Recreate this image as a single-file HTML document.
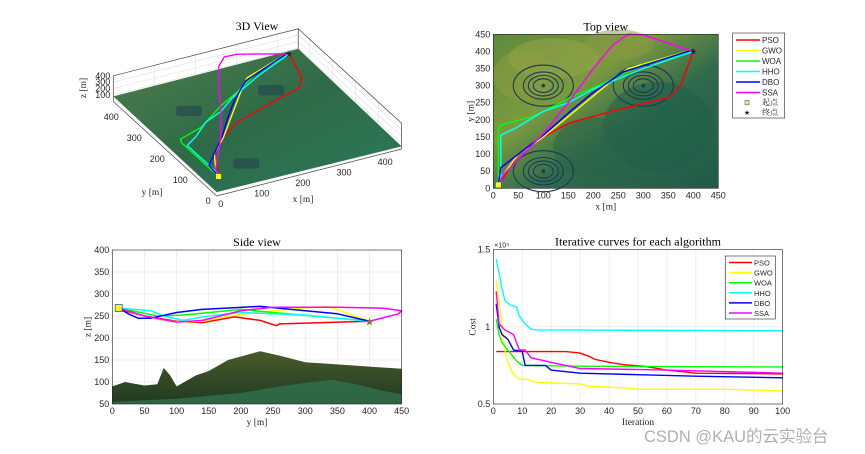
<!DOCTYPE html>
<html><head><meta charset="utf-8">
<style>
html,body{margin:0;padding:0;background:#fff;}
svg{display:block;}
text{font-family:"Liberation Sans",sans-serif;font-size:9px;fill:#262626;}
.ttl{font-family:"Liberation Serif",serif;font-size:12px;fill:#000;}
.lbl{font-family:"Liberation Serif","Noto Serif CJK SC",serif;font-size:9.5px;fill:#262626;}
</style></head>
<body>
<svg id="chart" width="865" height="454" viewBox="0 0 865 454" xmlns="http://www.w3.org/2000/svg">
<defs>
<linearGradient id="terrTop" x1="0" y1="0" x2="1" y2="1">
<stop offset="0" stop-color="#5f8a3c"/><stop offset="0.35" stop-color="#7a9a3e"/><stop offset="0.6" stop-color="#2f6a4c"/><stop offset="1" stop-color="#1f5a48"/>
</linearGradient>
<linearGradient id="terr3d" x1="0" y1="0" x2="1" y2="1">
<stop offset="0" stop-color="#4f7f4a"/><stop offset="0.5" stop-color="#2e6a48"/><stop offset="1" stop-color="#2a7a5a"/>
</linearGradient>
<linearGradient id="terrSide" x1="0" y1="0" x2="0" y2="1">
<stop offset="0" stop-color="#4a5a2a"/><stop offset="1" stop-color="#1f3a22"/>
</linearGradient>
</defs>
<g id="g3d"></g>
<g id="gtop"></g>
<g id="gside"></g>
<g id="gcost"></g>
<text x="644" y="442" style="font-size:16.5px;fill:#b0b0b0" font-family="Liberation Sans, Noto Sans CJK SC, sans-serif">CSDN @KAU的云实验台</text>
</svg>
<script>
const NS='http://www.w3.org/2000/svg';
const names=['PSO','GWO','WOA','HHO','DBO','SSA'];
const colors=['#ff0000','#ffff00','#00ff00','#00ffff','#0000ff','#ff00ff'];
// top view paths (x,y)
const topPSO=[[10,10],[20,30],[50,100],[100,150],[150,190],[250,230],[350,265],[375,300],[400,400]];
const topGWO=[[10,10],[15,30],[50,100],[100,150],[150,210],[200,270],[250,330],[270,350],[400,405]];
const topWOA=[[10,10],[10,170],[15,185],[80,210],[120,240],[160,270],[210,300],[300,360],[400,400]];
const topHHO=[[10,10],[15,20],[15,155],[50,180],[100,225],[150,250],[200,290],[300,350],[400,400]];
const topDBO=[[10,10],[15,60],[50,100],[100,155],[150,220],[200,280],[240,320],[260,340],[400,405]];
const topSSA=[[10,10],[20,40],[60,100],[100,160],[150,250],[200,350],[240,420],[270,450],[300,448],[400,400]];
// side view paths (y,z)
const sidePSO=[[10,265],[50,250],[100,238],[140,235],[190,248],[230,240],[255,228],[260,232],[400,238]];
const sideGWO=[[10,268],[60,245],[100,237],[140,238],[190,252],[250,262],[330,272],[340,270],[400,238]];
const sideWOA=[[10,268],[70,250],[110,252],[200,265],[250,258],[350,245],[400,238]];
const sideHHO=[[10,268],[60,262],[80,250],[110,240],[150,250],[200,258],[300,252],[400,238]];
const sideDBO=[[10,268],[25,255],[40,245],[60,245],[100,258],[140,265],[230,272],[300,262],[350,255],[400,238]];
const sideSSA=[[10,268],[50,250],[100,236],[140,240],[200,262],[250,270],[350,270],[420,268],[450,262],[445,255],[400,238]];
const sideTerrain=[[0,90],[20,100],[50,92],[70,95],[80,132],[90,115],[100,90],[130,115],[150,125],[180,150],[230,170],[260,160],[300,145],[350,140],[400,135],[450,130]];
// cost curves (iteration, cost)
const costPSO=[[1,8400],[25,8400],[30,8300],[33,8100],[35,7900],[40,7700],[45,7550],[52,7450],[60,7200],[65,7100],[70,7000],[100,6950]];
const costGWO=[[1,13000],[2,11500],[3,10000],[4,8500],[5,7700],[7,6900],[9,6600],[12,6600],[15,6400],[30,6300],[33,6150],[45,6050],[50,5950],[80,5950],[100,5850]];
const costWOA=[[1,10500],[2,9500],[3,9000],[5,8500],[8,7800],[10,7500],[30,7450],[100,7400]];
const costHHO=[[1,14400],[2,13500],[3,12500],[4,11700],[6,11400],[8,11300],[9,10700],[11,10200],[13,9850],[15,9800],[100,9750]];
const costDBO=[[1,11500],[2,10000],[3,9500],[5,9200],[7,8500],[10,8400],[11,7500],[18,7500],[20,7200],[30,7000],[50,6900],[70,6800],[100,6700]];
const costSSA=[[1,12300],[2,10200],[4,9800],[7,9500],[9,8500],[11,8500],[13,8000],[20,7700],[30,7300],[60,7200],[100,7000]];
const axTicks450=[0,50,100,150,200,250,300,350,400,450];
const sideZTicks=[50,100,150,200,250,300,350,400];
const costXTicks=[0,10,20,30,40,50,60,70,80,90,100];
const costYTicks=[0.5,1,1.5];
const tops=[topPSO,topGWO,topWOA,topHHO,topDBO,topSSA];
const sides=[sidePSO,sideGWO,sideWOA,sideHHO,sideDBO,sideSSA];
const costs=[costPSO,costGWO,costWOA,costHHO,costDBO,costSSA];

function mk(parent,tag,attrs,txt){const e=document.createElementNS(NS,tag);for(const k in attrs)e.setAttribute(k,attrs[k]);if(txt!==undefined)e.textContent=txt;parent.appendChild(e);return e;}
function lin(d0,d1,r0,r1){return v=>r0+(v-d0)/(d1-d0)*(r1-r0);}

// ---------- TOP VIEW ----------
(function(){
const g=document.getElementById('gtop');
const L=493.3,R=718.3,T=34.3,B=188.3;
const sx=lin(0,450,L,R),sy=lin(0,450,B,T);
let e=mk(g,'rect',{x:L,y:T,width:R-L,height:B-T,fill:'url(#terrTop)'});


const patches=[[120,380,90,40,'#9aa84a'],[60,330,60,50,'#8f9e44'],[250,420,70,30,'#8c9a40'],[330,180,110,90,'#1e5e4a'],[200,120,80,60,'#2a6448']];
patches.forEach(p=>{mk(g,'ellipse',{cx:sx(p[0]),cy:sy(p[1]),rx:p[2]/2,ry:p[3]/2,fill:p[4],opacity:0.5});});
[[100,300],[300,300],[100,50]].forEach(c=>{
 [60,40,30,20].forEach(r=>{mk(g,'ellipse',{cx:sx(c[0]),cy:sy(c[1]),rx:r*(R-L)/450,ry:r*(B-T)/450,fill:'none',stroke:'#1a3a5a','stroke-width':1.1});});
 mk(g,'circle',{cx:sx(c[0]),cy:sy(c[1]),r:1.8,fill:'#1a3a5a'});
});
tops.forEach((p,i)=>{const pl=mk(g,'polyline',{points:p.map(q=>sx(q[0])+','+sy(q[1])).join(' '),fill:'none',stroke:colors[i],'stroke-width':1.5,'stroke-linejoin':'round'});

});
mk(g,'rect',{x:sx(10)-3,y:sy(10)-3,width:6,height:6,fill:'#ffff00',stroke:'#3355aa','stroke-width':0.8});
mk(g,'text',{x:sx(400),y:sy(400)+3,'text-anchor':'middle',style:'font-size:9px;fill:#222'},'★');
mk(g,'rect',{x:L,y:T,width:R-L,height:B-T,fill:'none',stroke:'#262626','stroke-width':0.6});
axTicks450.forEach(t=>{mk(g,'text',{x:sx(t),y:B+10,'text-anchor':'middle'},String(t));mk(g,'text',{x:L-3,y:sy(t)+3,'text-anchor':'end'},String(t));});
mk(g,'text',{x:(L+R)/2,y:B+21,'text-anchor':'middle',class:'lbl'},'x [m]');
mk(g,'text',{x:L-20,y:(T+B)/2,'text-anchor':'middle',class:'lbl',transform:`rotate(-90 ${L-20} ${(T+B)/2})`},'y [m]');
const t=mk(g,'text',{x:(L+R)/2,y:T-4,'text-anchor':'middle',class:'ttl'},'Top view');


const lg=mk(g,'g',{});


mk(lg,'rect',{x:732.7,y:33,width:52,height:85,fill:'#fff',stroke:'#262626','stroke-width':0.6});
names.forEach((n,i)=>{const y=40+i*10.5;mk(lg,'line',{x1:736,y1:y,x2:760,y2:y,stroke:colors[i],'stroke-width':1.5});mk(lg,'text',{x:762,y:y+3,style:'font-size:8px'},n);});
mk(lg,'rect',{x:745,y:100.5,width:4,height:4,fill:'#ffff00',stroke:'#3355aa','stroke-width':0.6});
mk(lg,'text',{x:762,y:105,class:'lbl',style:'font-size:8px'},'起点');
mk(lg,'text',{x:747,y:115,'text-anchor':'middle',style:'font-size:7px'},'★');
mk(lg,'text',{x:762,y:115,class:'lbl',style:'font-size:8px'},'终点');
})();

// ---------- SIDE VIEW ----------
(function(){
const g=document.getElementById('gside');
const L=112.3,R=401.7,T=250,B=404;
const sx=lin(0,450,L,R),sy=lin(50,400,B,T);
mk(g,'rect',{x:L,y:T,width:R-L,height:B-T,fill:'#fff'});
axTicks450.forEach(t=>mk(g,'line',{x1:sx(t),y1:T,x2:sx(t),y2:B,stroke:'#e3e3e3','stroke-width':0.6}));
sideZTicks.forEach(t=>mk(g,'line',{x1:L,y1:sy(t),x2:R,y2:sy(t),stroke:'#e3e3e3','stroke-width':0.6}));
let pts=sideTerrain.map(q=>sx(q[0])+','+sy(q[1])).join(' ');
const ter=mk(g,'polygon',{points:pts+` ${sx(450)},${B} ${sx(0)},${B}`,fill:'url(#terrSide)'});


const lower=[[0,55],[100,62],[200,75],[260,90],[300,98],[340,105],[380,95],[420,80],[450,72],[450,50],[0,50]];
mk(g,'polygon',{points:lower.map(q=>sx(q[0])+','+sy(q[1])).join(' '),fill:'#2f6e4a',opacity:0.85});
sides.forEach((p,i)=>{const pl=mk(g,'polyline',{points:p.map(q=>sx(q[0])+','+sy(q[1])).join(' '),fill:'none',stroke:colors[i],'stroke-width':1.5,'stroke-linejoin':'round'});

});
mk(g,'rect',{x:sx(10)-3.5,y:sy(268)-3.5,width:7,height:7,fill:'#ffff00',stroke:'#3355aa','stroke-width':0.8});
mk(g,'text',{x:sx(400),y:sy(238)+4,'text-anchor':'middle',style:'font-size:11px;fill:#8a7a10'},'★');
mk(g,'rect',{x:L,y:T,width:R-L,height:B-T,fill:'none',stroke:'#262626','stroke-width':0.6});
axTicks450.forEach(t=>mk(g,'text',{x:sx(t),y:B+10,'text-anchor':'middle'},String(t)));
sideZTicks.forEach(t=>mk(g,'text',{x:L-3,y:sy(t)+3,'text-anchor':'end'},String(t)));
mk(g,'text',{x:(L+R)/2,y:B+21,'text-anchor':'middle',class:'lbl'},'y [m]');
mk(g,'text',{x:L-22,y:(T+B)/2,'text-anchor':'middle',class:'lbl',transform:`rotate(-90 ${L-22} ${(T+B)/2})`},'z [m]');
const t=mk(g,'text',{x:(L+R)/2,y:T-4,'text-anchor':'middle',class:'ttl'},'Side view');


})();

// ---------- COST ----------
(function(){
const g=document.getElementById('gcost');
const L=493.3,R=782.7,T=249.7,B=404;
const sx=lin(0,100,L,R),sy=lin(5000,15000,B,T);
mk(g,'rect',{x:L,y:T,width:R-L,height:B-T,fill:'#fff'});
costXTicks.forEach(t=>mk(g,'line',{x1:sx(t),y1:T,x2:sx(t),y2:B,stroke:'#e3e3e3','stroke-width':0.6}));
costYTicks.forEach(t=>mk(g,'line',{x1:L,y1:sy(t*1e4),x2:R,y2:sy(t*1e4),stroke:'#e3e3e3','stroke-width':0.6}));
costs.forEach((p,i)=>{const pl=mk(g,'polyline',{points:p.map(q=>sx(q[0])+','+sy(q[1])).join(' '),fill:'none',stroke:colors[i],'stroke-width':1.4});

});
mk(g,'rect',{x:L,y:T,width:R-L,height:B-T,fill:'none',stroke:'#262626','stroke-width':0.6});
costXTicks.forEach(t=>mk(g,'text',{x:sx(t),y:B+10,'text-anchor':'middle'},String(t)));
costYTicks.forEach(t=>mk(g,'text',{x:L-3,y:sy(t*1e4)+3,'text-anchor':'end'},String(t)));
mk(g,'text',{x:L+1,y:T-2,style:'font-size:7px'},'×10⁴');
mk(g,'text',{x:(L+R)/2,y:B+21,'text-anchor':'middle',class:'lbl'},'Iteration');
mk(g,'text',{x:L-18,y:(T+B)/2,'text-anchor':'middle',class:'lbl',transform:`rotate(-90 ${L-18} ${(T+B)/2})`},'Cost');
const t=mk(g,'text',{x:(L+R)/2,y:T-4,'text-anchor':'middle',class:'ttl'},'Iterative curves for each algorithm');


const lg=mk(g,'g',{});


mk(lg,'rect',{x:725.3,y:256,width:50,height:63,fill:'#fff',stroke:'#262626','stroke-width':0.6});
names.forEach((n,i)=>{const y=262.5+i*10.1;mk(lg,'line',{x1:729,y1:y,x2:752,y2:y,stroke:colors[i],'stroke-width':1.5});mk(lg,'text',{x:754,y:y+3,style:'font-size:7.5px'},n);});
})();

// ---------- 3D VIEW ----------
(function(){
const g=document.getElementById('g3d');
const O=[216.7,196],ex=[0.411,-0.1044],ey=[-0.2298,-0.21],ez=[0,-0.0643];
const P=(x,y,z)=>[O[0]+x*ex[0]+y*ey[0]+z*ez[0],O[1]+x*ex[1]+y*ey[1]+z*ez[1]];
const s=a=>a[0].toFixed(1)+','+a[1].toFixed(1);
[100,200,300,400].forEach(z=>{mk(g,'polyline',{points:[P(0,450,z),P(450,450,z),P(450,0,z)].map(s).join(' '),fill:'none',stroke:'#e0e0e0','stroke-width':0.6});});
[100,200,300,400].forEach(v=>{mk(g,'line',{x1:P(v,450,0)[0],y1:P(v,450,0)[1],x2:P(v,450,400)[0],y2:P(v,450,400)[1],stroke:'#e0e0e0','stroke-width':0.6});
mk(g,'line',{x1:P(450,v,0)[0],y1:P(450,v,0)[1],x2:P(450,v,400)[0],y2:P(450,v,400)[1],stroke:'#e0e0e0','stroke-width':0.6});});
mk(g,'polyline',{points:[P(0,450,400),P(450,450,400),P(450,0,400),P(450,0,0)].map(s).join(' '),fill:'none',stroke:'#444','stroke-width':0.7});
mk(g,'line',{x1:P(450,450,0)[0],y1:P(450,450,0)[1],x2:P(450,450,400)[0],y2:P(450,450,400)[1],stroke:'#444','stroke-width':0.7});
mk(g,'line',{x1:P(0,450,0)[0],y1:P(0,450,0)[1],x2:P(0,450,400)[0],y2:P(0,450,400)[1],stroke:'#444','stroke-width':0.7});
const terr=mk(g,'polygon',{points:[P(0,0,60),P(450,0,40),P(450,450,90),P(0,450,80)].map(s).join(' '),fill:'url(#terr3d)'});


[[100,300],[300,300],[100,50]].forEach(c=>{const a=P(c[0],c[1],100),b=P(c[0],c[1],260);mk(g,'rect',{x:a[0]-13,y:b[1],width:26,height:a[1]-b[1],fill:'#1f3f4f',opacity:0.55,rx:3});});
tops.forEach((p,i)=>{const pl=mk(g,'polyline',{points:p.map(q=>s(P(q[0],q[1],255))).join(' '),fill:'none',stroke:colors[i],'stroke-width':1.4,'stroke-linejoin':'round'});

});
const st=P(10,10,255),en=P(400,400,255);
mk(g,'rect',{x:st[0]-3,y:st[1]-3,width:6,height:6,fill:'#ffff00',stroke:'#3355aa','stroke-width':0.8});
mk(g,'text',{x:en[0],y:en[1]+3,'text-anchor':'middle',style:'font-size:9px'},'★');
mk(g,'polyline',{points:[P(0,450,0),P(0,0,0),P(450,0,0)].map(s).join(' '),fill:'none',stroke:'#444','stroke-width':0.7});
[0,100,200,300,400].forEach(t=>{const a=P(t,0,0);mk(g,'text',{x:a[0]+4,y:a[1]+11,'text-anchor':'middle'},String(t));});
[0,100,200,300,400].forEach(t=>{const a=P(0,t,0);mk(g,'text',{x:a[0]-6,y:a[1]+8,'text-anchor':'end'},String(t));});
[100,200,300,400].forEach(t=>{const a=P(0,450,t);mk(g,'text',{x:a[0]-3,y:a[1]+3,'text-anchor':'end'},String(t));});
mk(g,'text',{x:303,y:202,'text-anchor':'middle',class:'lbl'},'x [m]');
mk(g,'text',{x:152,y:195,'text-anchor':'middle',class:'lbl'},'y [m]');
mk(g,'text',{x:86,y:88,'text-anchor':'middle',class:'lbl',transform:'rotate(-90 86 88)'},'z [m]');
const t=mk(g,'text',{x:257,y:30,'text-anchor':'middle',class:'ttl'},'3D View');


})();
</script>
</body></html>
